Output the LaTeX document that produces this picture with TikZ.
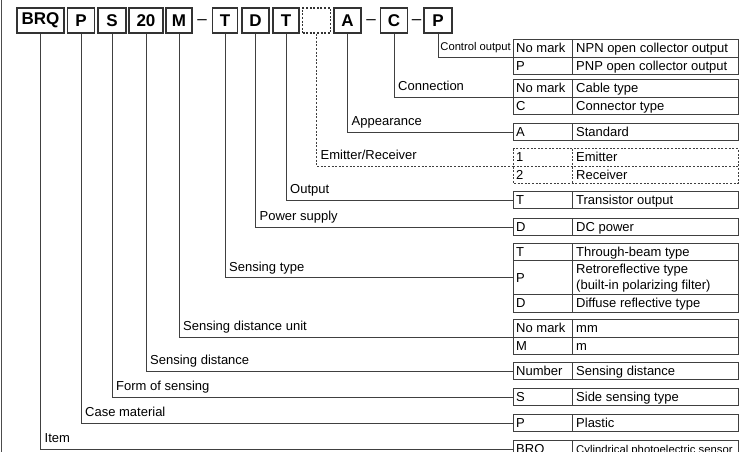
\documentclass[tikz,border=0pt]{standalone}
\usepackage{fontspec}
\setmainfont{Liberation Sans}

\begin{document}
\begin{tikzpicture}[x=1pt,y=-1pt,
		codebox/.style={draw=black!80,line width=1.1pt,minimum width=27pt,minimum height=25pt,inner sep=1pt,font=\fontsize{17}{17}\selectfont\bfseries},
		dashbox/.style={codebox,dash pattern=on 2pt off 1.6pt},
		lead/.style={draw=black!75,line width=0.8pt},
		dlead/.style={lead,dash pattern=on 2pt off 1.6pt},
		tab/.style={draw=black!75,line width=0.8pt},
		dtab/.style={tab,dash pattern=on 2pt off 1.6pt},
		lab/.style={anchor=base west,inner sep=0pt,font=\fontsize{13}{15}\selectfont},
		cell/.style={anchor=base west,inner sep=0pt,font=\fontsize{13}{16}\selectfont},
		hyph/.style={inner sep=0pt,font=\fontsize{17}{17}\selectfont}]
		\useasboundingbox (0,0) rectangle (741,452);
		\clip (0,0) rectangle (741,452);
		%\draw [help lines,step=10] (0,0) grid (741,452);
		\draw [black!70,line width=1.4pt] (1.2,0) -- (1.2,452);
		% Codice del modello
		\node [codebox,minimum width=47pt] (bItem) at (40.5,20.5) {BRQ};
		\node [codebox] (bCase) at (81,20.5) {P};
		\node [codebox,minimum width=28pt] (bForm) at (112,20.5) {S};
		\node [codebox,minimum width=34pt] (bDist) at (146,20.5) {20};
		\node [codebox,minimum width=26pt] (bUnit) at (179,20.5) {M};
		\node [hyph] (h1) at (202,22.5) {–};
		\node [codebox,minimum width=25pt] (bType) at (225,20.5) {T};
		\node [codebox] (bPower) at (255.5,20.5) {D};
		\node [codebox,minimum width=26pt] (bOut) at (286,20.5) {T};
		\node [dashbox,minimum width=28pt] (bEmit) at (316.5,20.5) {};
		\node [codebox] (bApp) at (347.5,20.5) {A};
		\node [hyph] (h2) at (371,22.5) {–};
		\node [codebox] (bConn) at (394,20.5) {C};
		\node [hyph] (h3) at (416.5,22.5) {–};
		\node [codebox,minimum width=28pt] (bCtrl) at (438,20.5) {P};
		% Punti di arrivo sulle tabelle
		\coordinate (tCtrl) at (513,57);
		\coordinate (tConn) at (513,97);
		\coordinate (tApp) at (513,132);
		\coordinate (tEmit) at (513,166);
		\coordinate (tOut) at (513,200);
		\coordinate (tPower) at (513,227);
		\coordinate (tType) at (513,277.5);
		\coordinate (tUnit) at (513,337);
		\coordinate (tDist) at (513,371);
		\coordinate (tForm) at (513,397);
		\coordinate (tCase) at (513,423);
		\coordinate (tItem) at (513,449);
		% Linee di collegamento
		\draw [lead] (bCtrl.south) |- (tCtrl);
		\draw [lead] (bConn.south) |- (tConn);
		\draw [lead] (bApp.south) |- (tApp);
		\draw [dlead] (bEmit.south) |- (tEmit);
		\draw [lead] (bOut.south) |- (tOut);
		\draw [lead] (bPower.south) |- (tPower);
		\draw [lead] (bType.south) |- (tType);
		\draw [lead] (bUnit.south) |- (tUnit);
		\draw [lead] (bDist.south) |- (tDist);
		\draw [lead] (bForm.south) |- (tForm);
		\draw [lead] (bCase.south) |- (tCase);
		\draw [lead] (bItem.south) |- (tItem);
		% NOMI
		\node [lab,anchor=base east,font=\fontsize{11.2}{13}\selectfont] (lCtrl) at (511,51) {Control output};
		\node [lab] (lConn) at (398,90.5) {Connection};
		\node [lab] (lApp) at (351.5,125.5) {Appearance};
		\node [lab] (lEmit) at (320.5,159.5) {Emitter/Receiver};
		\node [lab] (lOut) at (290,193.5) {Output};
		\node [lab] (lPower) at (259.5,220.5) {Power supply};
		\node [lab] (lType) at (229,271) {Sensing type};
		\node [lab] (lUnit) at (183,330.5) {Sensing distance unit};
		\node [lab] (lDist) at (150,364.5) {Sensing distance};
		\node [lab] (lForm) at (116,390.5) {Form of sensing};
		\node [lab] (lCase) at (85,416.5) {Case material};
		\node [lab] (lItem) at (44.5,442.5) {Item};
		% Tabelle
		\draw [tab] (513,39.5) rectangle (738,74.5);
		\draw [tab] (513,57) -- (738,57) (572,39.5) -- (572,74.5);
		\node [cell] (kCtrlA) at (516,52.8) {No mark};
		\node [cell] (vCtrlA) at (576,52.8) {NPN open collector output};
		\node [cell] (kCtrlB) at (516,70.3) {P};
		\node [cell] (vCtrlB) at (576,70.3) {PNP open collector output};
		\draw [tab] (513,79.5) rectangle (738,114.5);
		\draw [tab] (513,97) -- (738,97) (572,79.5) -- (572,114.5);
		\node [cell] (kConnA) at (516,92.8) {No mark};
		\node [cell] (vConnA) at (576,92.8) {Cable type};
		\node [cell] (kConnB) at (516,110.3) {C};
		\node [cell] (vConnB) at (576,110.3) {Connector type};
		\draw [tab] (513,123.25) rectangle (738,140.75);
		\draw [tab] (572,123.25) -- (572,140.75);
		\node [cell] (kApp) at (516,136.6) {A};
		\node [cell] (vApp) at (576,136.6) {Standard};
		\draw [dtab] (513,148.5) rectangle (738,183.5);
		\draw [dtab] (513,166) -- (738,166) (572,148.5) -- (572,183.5);
		\node [cell] (kEmitA) at (516,161.8) {1};
		\node [cell] (vEmitA) at (576,161.8) {Emitter};
		\node [cell] (kEmitB) at (516,179.3) {2};
		\node [cell] (vEmitB) at (576,179.3) {Receiver};
		\draw [tab] (513,191.25) rectangle (738,208.75);
		\draw [tab] (572,191.25) -- (572,208.75);
		\node [cell] (kOut) at (516,204.6) {T};
		\node [cell] (vOut) at (576,204.6) {Transistor output};
		\draw [tab] (513,218.25) rectangle (738,235.75);
		\draw [tab] (572,218.25) -- (572,235.75);
		\node [cell] (kPower) at (516,231.6) {D};
		\node [cell] (vPower) at (576,231.6) {DC power};
		\draw [tab] (513,243) rectangle (738,312);
		\draw [tab] (513,260.5) -- (738,260.5) (513,294.5) -- (738,294.5) (572,243) -- (572,312);
		\node [cell] (kTypeA) at (516,256.3) {T};
		\node [cell] (vTypeA) at (576,256.3) {Through-beam type};
		\node [cell] (kTypeB) at (516,282.1) {P};
		\node [cell,anchor=west,align=left] (vTypeB) at (576,278) {Retroreflective type\\(built-in polarizing filter)};
		\node [cell] (kTypeC) at (516,307.8) {D};
		\node [cell] (vTypeC) at (576,307.8) {Diffuse reflective type};
		\draw [tab] (513,319.5) rectangle (738,354.5);
		\draw [tab] (513,337) -- (738,337) (572,319.5) -- (572,354.5);
		\node [cell] (kUnitA) at (516,332.8) {No mark};
		\node [cell] (vUnitA) at (576,332.8) {mm};
		\node [cell] (kUnitB) at (516,350.3) {M};
		\node [cell] (vUnitB) at (576,350.3) {m};
		\draw [tab] (513,362.25) rectangle (738,379.75);
		\draw [tab] (572,362.25) -- (572,379.75);
		\node [cell] (kDist) at (516,375.6) {Number};
		\node [cell] (vDist) at (576,375.6) {Sensing distance};
		\draw [tab] (513,388.25) rectangle (738,405.75);
		\draw [tab] (572,388.25) -- (572,405.75);
		\node [cell] (kForm) at (516,401.6) {S};
		\node [cell] (vForm) at (576,401.6) {Side sensing type};
		\draw [tab] (513,414.25) rectangle (738,431.75);
		\draw [tab] (572,414.25) -- (572,431.75);
		\node [cell] (kCase) at (516,427.6) {P};
		\node [cell] (vCase) at (576,427.6) {Plastic};
		\draw [tab] (513,440.25) rectangle (738,457.75);
		\draw [tab] (572,440.25) -- (572,457.75);
		\node [cell] (kItem) at (516,453.6) {BRQ};
		\node [cell,font=\fontsize{11.3}{13}\selectfont] (vItem) at (576,453.6) {Cylindrical photoelectric sensor};
	\end{tikzpicture}
\end{document}
